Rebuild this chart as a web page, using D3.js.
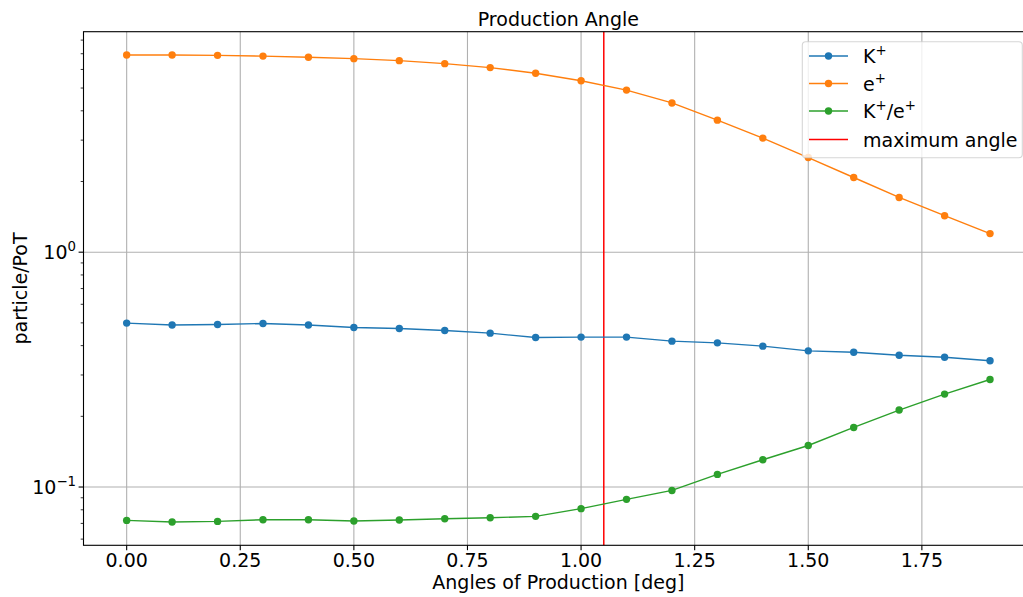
<!DOCTYPE html>
<html>
<head>
<meta charset="utf-8">
<script src="https://cdn.jsdelivr.net/npm/d3@7"></script>
<style>
  html, body { margin: 0; padding: 0; background: #fff; overflow: hidden; }
  svg { display: block; font-family: "DejaVu Sans", sans-serif; }
</style>
</head>
<body>
<svg id="chart" width="1023" height="597"></svg>
<script>
// Production angle scan (deg)
const angles = [0.0, 0.1, 0.2, 0.3, 0.4, 0.5, 0.6, 0.7, 0.8, 0.9,
                1.0, 1.1, 1.2, 1.3, 1.4, 1.5, 1.6, 1.7, 1.8, 1.9];

// Particles per proton on target
const kaonPlus = [0.499, 0.490, 0.492, 0.497, 0.490, 0.478, 0.473, 0.464, 0.452, 0.433,
                  0.435, 0.435, 0.418, 0.411, 0.398, 0.380, 0.375, 0.364, 0.357, 0.345];
const positron = [6.91, 6.91, 6.89, 6.84, 6.76, 6.67, 6.54, 6.35, 6.11, 5.78,
                  5.37, 4.90, 4.32, 3.65, 3.06, 2.53, 2.08, 1.71, 1.43, 1.20];
const kaonOverPositron = [0.0721, 0.0710, 0.0714, 0.0726, 0.0726, 0.0717, 0.0724, 0.0733, 0.0740, 0.0750,
                          0.0809, 0.0886, 0.0967, 0.1132, 0.1307, 0.1503, 0.1793, 0.2127, 0.2487, 0.2870];

const maxAngle = 1.05;

const xTicks = [0.00, 0.25, 0.50, 0.75, 1.00, 1.25, 1.50, 1.75];
const yMajorTicks = [0.1, 1];
const yMajorExponents = ["−1", "0"];

const seriesColors = ["#1f77b4", "#ff7f0e", "#2ca02c"];
const maxAngleColor = "#ff0000";

const svg = d3.select("#chart");
const plot = { left: 83.5, right: 1033.2, top: 31.7, bottom: 545.3 };
const FONT = 19;
const SUP = FONT * 0.7;
const SUP_DY = -8;

// x domain padded by 5% of the data span
const xMin = d3.min(angles), xMax = d3.max(angles);
const xPad = (xMax - xMin) * 0.05;
const x = d3.scaleLinear().domain([xMin - xPad, xMax + xPad]).range([plot.left, plot.right]);

// log y domain padded by 5% of the data span in decades
const allVals = kaonPlus.concat(positron, kaonOverPositron);
const lMin = Math.log10(d3.min(allVals)), lMax = Math.log10(d3.max(allVals));
const lPad = (lMax - lMin) * 0.05;
const y = d3.scaleLog().domain([10 ** (lMin - lPad), 10 ** (lMax + lPad)]).range([plot.bottom, plot.top]);

const gridColor = "#b0b0b0";

// grid
const grid = svg.append("g");
grid.selectAll("line.gx").data(xTicks).enter().append("line")
  .attr("x1", d => x(d)).attr("x2", d => x(d))
  .attr("y1", plot.top).attr("y2", plot.bottom)
  .attr("stroke", gridColor).attr("stroke-width", 1.1);
grid.selectAll("line.gy").data(yMajorTicks).enter().append("line")
  .attr("x1", plot.left).attr("x2", plot.right)
  .attr("y1", d => y(d)).attr("y2", d => y(d))
  .attr("stroke", gridColor).attr("stroke-width", 1.1);

// maximum angle marker
svg.append("line")
  .attr("x1", x(maxAngle)).attr("x2", x(maxAngle))
  .attr("y1", plot.top).attr("y2", plot.bottom)
  .attr("stroke", maxAngleColor).attr("stroke-width", 1.5);

// data series
const seriesData = [kaonPlus, positron, kaonOverPositron];
const line = d3.line().x(d => x(d[0])).y(d => y(d[1]));
seriesData.forEach((vals, i) => {
  const pts = angles.map((a, j) => [a, vals[j]]);
  const g = svg.append("g");
  g.append("path").datum(pts).attr("d", line)
    .attr("fill", "none").attr("stroke", seriesColors[i]).attr("stroke-width", 1.4);
  g.selectAll("circle").data(pts).enter().append("circle")
    .attr("cx", d => x(d[0])).attr("cy", d => y(d[1])).attr("r", 3.7)
    .attr("fill", seriesColors[i]);
});

// spines
svg.append("rect")
  .attr("x", plot.left).attr("y", plot.top)
  .attr("width", plot.right - plot.left).attr("height", plot.bottom - plot.top)
  .attr("fill", "none").attr("stroke", "#000").attr("stroke-width", 1.1);

// x axis ticks and labels
const xAxis = svg.append("g");
xAxis.selectAll("line").data(xTicks).enter().append("line")
  .attr("x1", d => x(d)).attr("x2", d => x(d))
  .attr("y1", plot.bottom).attr("y2", plot.bottom + 4.9)
  .attr("stroke", "#000").attr("stroke-width", 1.1);
xAxis.selectAll("text").data(xTicks).enter().append("text")
  .attr("x", d => x(d)).attr("y", 567)
  .attr("text-anchor", "middle").attr("font-size", FONT).attr("fill", "#000")
  .text(d => d.toFixed(2));

// y axis major ticks, minor ticks and labels
const yAxis = svg.append("g");
const yDom = y.domain();
const minorTicks = [];
for (let e = -2; e <= 0; e++) {
  for (let m = 2; m <= 9; m++) {
    const v = m * 10 ** e;
    if (v >= yDom[0] && v <= yDom[1]) minorTicks.push(v);
  }
}
yAxis.selectAll("line.minor").data(minorTicks).enter().append("line")
  .attr("x1", plot.left - 2.8).attr("x2", plot.left)
  .attr("y1", d => y(d)).attr("y2", d => y(d))
  .attr("stroke", "#000").attr("stroke-width", 0.8);
yAxis.selectAll("line.major").data(yMajorTicks).enter().append("line")
  .attr("x1", plot.left - 4.9).attr("x2", plot.left)
  .attr("y1", d => y(d)).attr("y2", d => y(d))
  .attr("stroke", "#000").attr("stroke-width", 1.1);
yMajorTicks.forEach((v, i) => {
  const t = yAxis.append("text")
    .attr("x", plot.left - 7.5).attr("y", y(v) + 7)
    .attr("text-anchor", "end").attr("font-size", FONT).attr("fill", "#000");
  t.append("tspan").text("10");
  t.append("tspan").attr("dy", SUP_DY).attr("font-size", SUP).text(yMajorExponents[i]);
});

// title and axis labels
svg.append("text").attr("x", (plot.left + plot.right) / 2).attr("y", 26)
  .attr("text-anchor", "middle").attr("font-size", FONT).attr("fill", "#000")
  .text("Production Angle");
svg.append("text").attr("x", (plot.left + plot.right) / 2).attr("y", 588.5)
  .attr("text-anchor", "middle").attr("font-size", FONT).attr("fill", "#000")
  .text("Angles of Production [deg]");
svg.append("text")
  .attr("transform", `translate(27, ${(plot.top + plot.bottom) / 2}) rotate(-90)`)
  .attr("text-anchor", "middle").attr("font-size", FONT).attr("fill", "#000")
  .text("particle/PoT");

// legend
const legend = svg.append("g");
legend.append("rect")
  .attr("x", 802.3).attr("y", 41.7).attr("width", 220).attr("height", 116)
  .attr("rx", 3.5).attr("fill", "#fff").attr("fill-opacity", 0.8)
  .attr("stroke", "#cccccc").attr("stroke-opacity", 0.8).attr("stroke-width", 1.1);

function superLabel(sel, parts) {
  parts.forEach(p => {
    if (p.sup) sel.append("tspan").attr("dy", SUP_DY).attr("font-size", SUP).text(p.t);
    else sel.append("tspan").attr("dy", p.reset ? -SUP_DY : 0).text(p.t);
  });
}
const legendLabels = [
  [{ t: "K" }, { t: "+", sup: true }],
  [{ t: "e" }, { t: "+", sup: true }],
  [{ t: "K" }, { t: "+", sup: true }, { t: "/e", reset: true }, { t: "+", sup: true }],
  [{ t: "maximum angle" }]
];
const legendColors = seriesColors.concat([maxAngleColor]);
const rowY = [56, 83.5, 111, 139.5];
legendLabels.forEach((parts, i) => {
  const yy = rowY[i];
  legend.append("line").attr("x1", 809).attr("x2", 848).attr("y1", yy).attr("y2", yy)
    .attr("stroke", legendColors[i]).attr("stroke-width", i === 3 ? 1.5 : 1.4);
  if (i < 3) {
    legend.append("circle").attr("cx", 828.5).attr("cy", yy).attr("r", 3.7).attr("fill", legendColors[i]);
  }
  const t = legend.append("text").attr("x", 863).attr("y", yy + 7)
    .attr("font-size", FONT).attr("fill", "#000");
  superLabel(t, parts);
});
</script>
</body>
</html>
